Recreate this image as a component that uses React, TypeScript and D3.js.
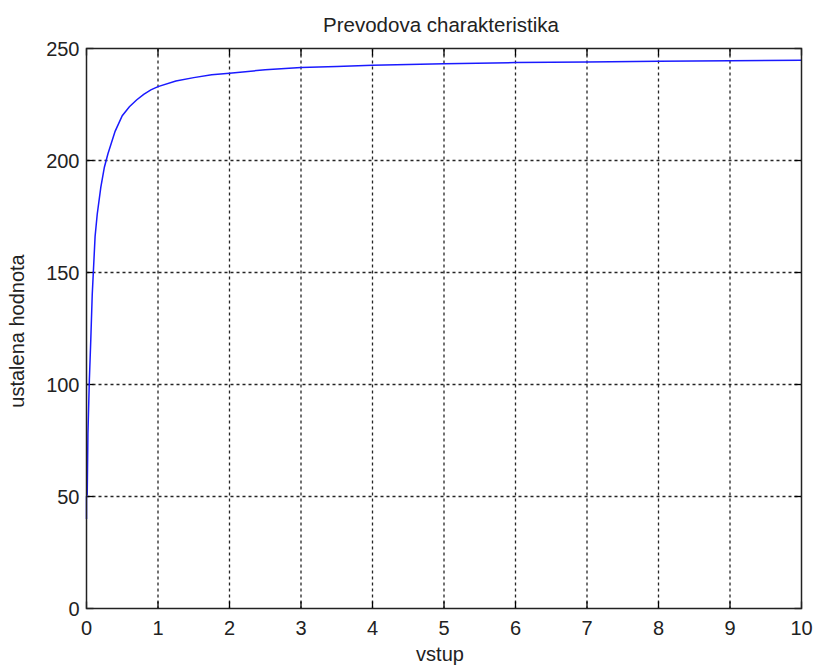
import React from "react";
import * as d3 from "d3";

const xs = [0, 0, 0.01, 0.02, 0.04, 0.06, 0.08, 0.1, 0.12, 0.15, 0.2, 0.25, 0.3, 0.4, 0.5, 0.6, 0.7, 0.8, 0.9, 1.0, 1.25, 1.5, 1.75, 2, 2.5, 3, 3.5, 4, 5, 6, 7, 8, 9, 10];
const ys = [40, 50, 51, 78, 102, 120, 140, 153, 166, 176, 188, 197, 203, 213, 220, 224, 227, 229.5, 231.5, 233, 235.5, 237, 238.3, 239, 240.5, 241.5, 242, 242.5, 243.2, 243.7, 244, 244.3, 244.5, 244.7];
const xTicks = [0, 1, 2, 3, 4, 5, 6, 7, 8, 9, 10];
const yTicks = [0, 50, 100, 150, 200, 250];
const title = "Prevodova charakteristika";
const xLabel = "vstup";
const yLabel = "ustalena hodnota";

export default function App() {
  const W = 813, H = 668;
  const L = 86.5, R = 801.5, T = 48.5, B = 608.5;
  const x = d3.scaleLinear().domain([0, 10]).range([L, R]);
  const y = d3.scaleLinear().domain([0, 250]).range([B, T]);
  const pts: [number, number][] = xs.map((v, i) => [v, ys[i]]);
  const line = d3.line<[number, number]>().x(d => x(d[0])).y(d => y(d[1]));
  const font = "Arial, 'Liberation Sans', sans-serif";
  return (
    <svg width={W} height={H} style={{ position: "absolute", left: 0, top: 0, background: "#fff" }} fontFamily={font}>
      <rect x={0} y={0} width={W} height={H} fill="#fff" />
      {xTicks.slice(1, -1).map(t => (
        <line key={"gx" + t} x1={x(t)} x2={x(t)} y1={T} y2={B} stroke="#000" strokeWidth={1.3} strokeDasharray="3,3" opacity={0.85} />
      ))}
      {yTicks.slice(1, -1).map(t => (
        <line key={"gy" + t} x1={L} x2={R} y1={y(t)} y2={y(t)} stroke="#000" strokeWidth={1.3} strokeDasharray="3,3" opacity={0.85} />
      ))}
      {xTicks.map(t => (
        <g key={"tx" + t}>
          <line x1={x(t)} x2={x(t)} y1={B} y2={B - 7} stroke="#000" strokeWidth={1.3} />
          <line x1={x(t)} x2={x(t)} y1={T} y2={T + 7} stroke="#000" strokeWidth={1.3} />
          <text x={x(t)} y={635} textAnchor="middle" fontSize={20} fill="#222">{t}</text>
        </g>
      ))}
      {yTicks.map(t => (
        <g key={"ty" + t}>
          <line x1={L} x2={L + 7} y1={y(t)} y2={y(t)} stroke="#000" strokeWidth={1.3} />
          <line x1={R} x2={R - 7} y1={y(t)} y2={y(t)} stroke="#000" strokeWidth={1.3} />
          <text x={L - 7} y={y(t) + 7.5} textAnchor="end" fontSize={20} fill="#222">{t}</text>
        </g>
      ))}
      <path d={line(pts) || ""} fill="none" stroke="#1a1aff" strokeWidth={1.5} />
      <rect x={L} y={T} width={R - L} height={B - T} fill="none" stroke="#222" strokeWidth={1.5} />
      <text x={441} y={32} textAnchor="middle" fontSize={20.5} fill="#222">{title}</text>
      <text x={(L + R) / 2 - 4} y={661} textAnchor="middle" fontSize={20} fill="#222">{xLabel}</text>
      <text transform={`translate(23.5, 331) rotate(-90)`} textAnchor="middle" fontSize={20} fill="#222">{yLabel}</text>
    </svg>
  );
}
